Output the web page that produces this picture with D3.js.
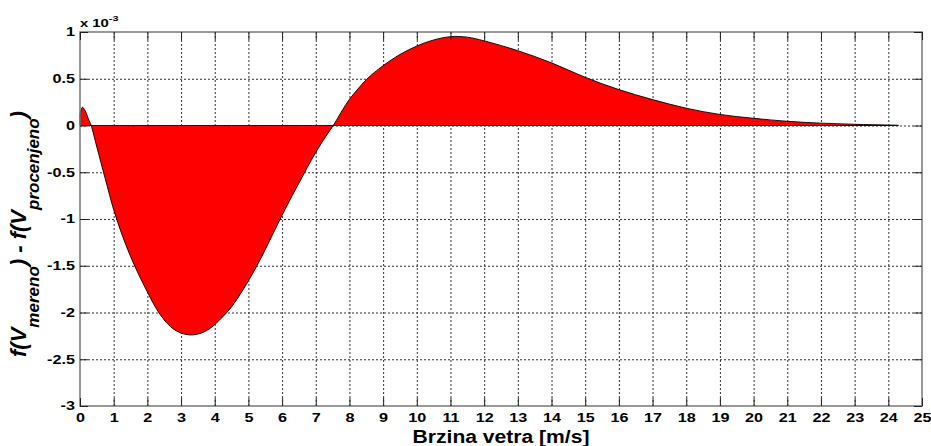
<!DOCTYPE html>
<html>
<head>
<meta charset="utf-8">
<script src="https://cdn.jsdelivr.net/npm/d3@7"></script>
<style>
  body { margin: 0; background: #fff; }
  text { font-family: "Liberation Sans", Arial, sans-serif; font-weight: bold; }
</style>
</head>
<body>
<svg id="chart" width="931" height="446"></svg>
<script>
'use strict'

// wind speed [m/s]
const speeds = [0, 0.07, 0.15, 0.25, 0.33, 0.5, 0.75, 1.0, 1.25, 1.5, 1.75, 2.0, 2.25, 2.5, 2.75, 3.0, 3.3, 3.6, 3.9, 4.2, 4.5, 4.8, 5.1, 5.4, 5.7, 6.0, 6.3, 6.6, 6.9, 7.2, 7.52, 7.75, 8, 8.25, 8.5, 8.75, 9, 9.5, 10, 10.5, 11, 11.5, 12, 13, 14, 15, 16, 17, 18, 19, 20, 21, 22, 23, 24, 24.3]
// f(V_mereno) - f(V_procenjeno), in units of 1e-3
const diffs = [0.12, 0.195, 0.16, 0.07, 0, -0.23, -0.57, -0.9, -1.17, -1.4, -1.6, -1.78, -1.95, -2.08, -2.17, -2.22, -2.24, -2.22, -2.16, -2.06, -1.94, -1.78, -1.6, -1.4, -1.18, -0.96, -0.75, -0.55, -0.35, -0.17, 0, 0.14, 0.28, 0.39, 0.49, 0.57, 0.64, 0.76, 0.85, 0.915, 0.95, 0.945, 0.905, 0.8, 0.67, 0.515, 0.384, 0.277, 0.185, 0.118, 0.077, 0.045, 0.025, 0.013, 0.005, 0.003]

const xTicks = d3.range(0, 26, 1)
const yTicks = [-3, -2.5, -2, -1.5, -1, -0.5, 0, 0.5, 1]

const data = speeds.map((s, i) => ({s, v: diffs[i]}))

const svg = d3.select('#chart')
const plot = {left: 80, right: 922, top: 32, bottom: 406}
const stretch = 1.35

const x = d3.scaleLinear().domain([0, 25]).range([plot.left, plot.right])
const y = d3.scaleLinear().domain([-3, 1]).range([plot.bottom, plot.top])

// grid
const grid = svg.append('g')
	.attr('stroke', '#333')
	.attr('stroke-width', 1)
	.attr('stroke-dasharray', '2,2')
grid.selectAll('.vg')
	.data(xTicks.slice(1, -1))
	.enter()
	.append('line')
	.attr('x1', (d) => x(d) + 0.5)
	.attr('x2', (d) => x(d) + 0.5)
	.attr('y1', plot.top)
	.attr('y2', plot.bottom)
grid.selectAll('.hg')
	.data(yTicks.slice(1, -1))
	.enter()
	.append('line')
	.attr('x1', plot.left)
	.attr('x2', plot.right)
	.attr('y1', (d) => y(d) + 0.5)
	.attr('y2', (d) => y(d) + 0.5)

// filled area
const area = d3.area()
	.x((d) => x(d.s))
	.y0(y(0))
	.y1((d) => y(d.v))
	.curve(d3.curveCatmullRom.alpha(0.5))

svg.append('path')
	.datum(data)
	.attr('d', area)
	.attr('fill', '#ff0000')
	.attr('stroke', '#000')
	.attr('stroke-width', 0.9)

// axes box
svg.append('rect')
	.attr('x', plot.left)
	.attr('y', plot.top)
	.attr('width', plot.right - plot.left)
	.attr('height', plot.bottom - plot.top)
	.attr('fill', 'none')
	.attr('stroke', '#777')
	.attr('stroke-width', 1.5)

const xAxisB = d3.axisBottom(x).tickValues(xTicks).tickSize(-8).tickPadding(7).tickFormat(d3.format('d'))
const xAxisT = d3.axisTop(x).tickValues(xTicks).tickSize(-8).tickFormat('')
const yAxisL = d3.axisLeft(y).tickValues(yTicks).tickSize(-8).tickPadding(0).tickFormat((d) => String(d))
const yAxisR = d3.axisRight(y).tickValues(yTicks).tickSize(-8).tickFormat('')

const styleAxis = (g) => {
	g.select('.domain').remove()
	g.selectAll('.tick line').attr('stroke', '#222')
	g.selectAll('.tick text')
		.attr('fill', '#000')
		.style('font-size', '12px')
		.style('font-weight', 'bold')
}

svg.append('g').attr('transform', `translate(0,${plot.bottom})`).call(xAxisB).call(styleAxis)
	.selectAll('.tick text')
	.attr('transform', `scale(${stretch},1)`)
svg.append('g').attr('transform', `translate(0,${plot.top})`).call(xAxisT).call(styleAxis)
svg.append('g').attr('transform', `translate(${plot.left},0)`).call(yAxisL).call(styleAxis)
	.selectAll('.tick text')
	.attr('x', 0)
	.attr('transform', `translate(-5,0) scale(${stretch},1)`)
svg.append('g').attr('transform', `translate(${plot.right},0)`).call(yAxisR).call(styleAxis)

// exponent label
const expo = svg.append('text')
	.attr('transform', `translate(${plot.left},27) scale(${stretch},1)`)
	.style('font-size', '11px')
	.attr('fill', '#000')
expo.append('tspan').text('x 10')
expo.append('tspan').attr('dy', -6).style('font-size', '8px').text('-3')

// x label
const xl = svg.append('text')
	.attr('text-anchor', 'middle')
	.style('font-size', '19px')
	.attr('fill', '#000')
	.text('Brzina vetra [m/s]')
const xlw = xl.node().getComputedTextLength()
xl.attr('transform', `translate(501,443) scale(${177 / xlw},1)`)

// y label
const yl = svg.append('text')
	.attr('transform', 'translate(26,234) rotate(-90)')
	.attr('text-anchor', 'middle')
	.style('font-size', '22px')
	.style('font-style', 'italic')
	.attr('fill', '#000')
yl.append('tspan').text('f(V')
yl.append('tspan').attr('dy', 13).style('font-size', '17px').text('mereno')
yl.append('tspan').attr('dy', -13).text(') - f(V')
yl.append('tspan').attr('dy', 13).style('font-size', '17px').text('procenjeno')
yl.append('tspan').attr('dy', -13).text(')')
</script>
</body>
</html>
